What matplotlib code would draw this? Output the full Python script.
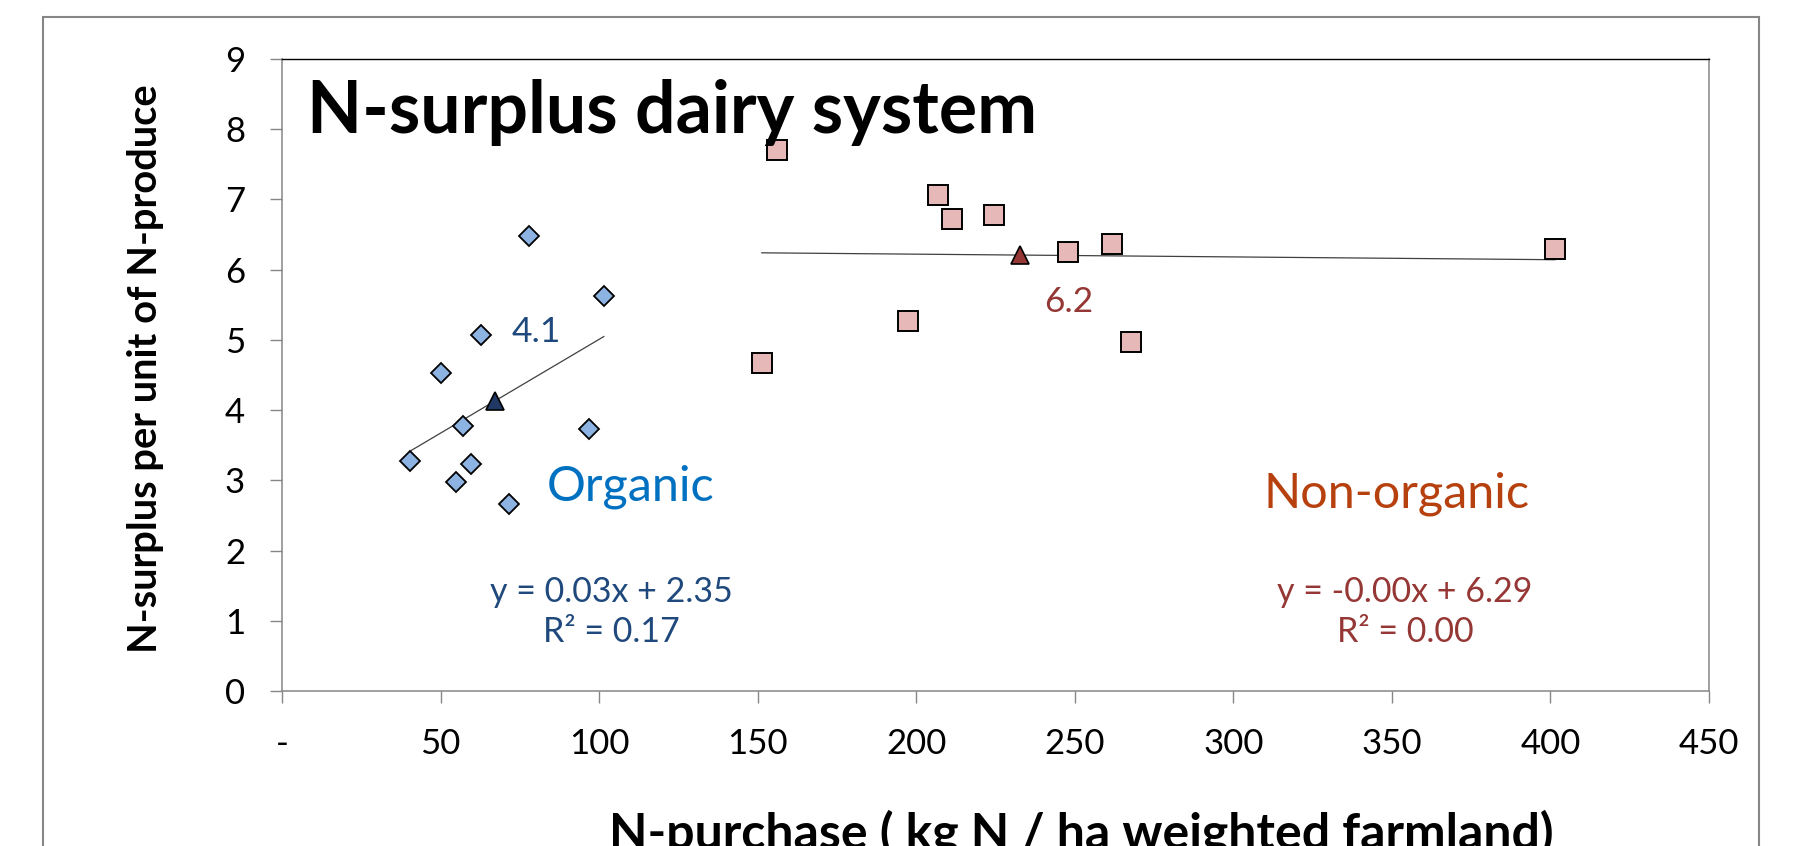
import matplotlib
matplotlib.use("Agg")
import matplotlib.pyplot as plt
import numpy as np
from matplotlib.patches import Rectangle

# organic farms (kg N purchase, N-surplus per unit N-produce)
org_x = [40.3, 50.2, 54.9, 57.1, 59.6, 62.7, 71.7, 77.9, 96.9, 101.5]
org_y = [3.27, 4.53, 2.98, 3.77, 3.23, 5.07, 2.66, 6.48, 3.73, 5.62]
# non-organic farms
conv_x = [151.3, 156.0, 197.5, 207.0, 211.2, 224.4, 247.8, 261.7, 267.6, 401.4]
conv_y = [4.67, 7.70, 5.27, 7.06, 6.72, 6.78, 6.25, 6.37, 4.97, 6.29]

x_ticks = [0, 50, 100, 150, 200, 250, 300, 350, 400, 450]
x_ticklabels = ['-', '50', '100', '150', '200', '250', '300', '350', '400', '450']
y_ticks = list(range(0, 10))

org_eq = "y = 0.03x + 2.35\nR² = 0.17"
conv_eq = "y = -0.00x + 6.29\nR² = 0.00"

plt.rcParams['font.family'] = ['Lato', 'DejaVu Sans']

fig = plt.figure(figsize=(17.98, 8.46), dpi=100)
ax = fig.add_axes([282/1798, 1 - 691/846, (1709-282)/1798, (691-59)/846])

# outer chart frame (cut off at the bottom)
fig.patches.append(Rectangle((43/1798, -0.2), (1759-43)/1798, 1.2 - 17/846,
                             transform=fig.transFigure, fill=False,
                             edgecolor='#868686', linewidth=1.5))

# trend lines
for xs, ys in [(org_x, org_y), (conv_x, conv_y)]:
    k, b = np.polyfit(xs, ys, 1)
    xl = np.array([min(xs), max(xs)])
    ax.plot(xl, k * xl + b, color='#404040', linewidth=0.9, zorder=2)

ax.plot(org_x, org_y, linestyle='none', marker='D', markersize=10,
        markerfacecolor='#8DB3E2', markeredgecolor='black', markeredgewidth=1.3, zorder=3)
ax.plot(conv_x, conv_y, linestyle='none', marker='s', markersize=14,
        markerfacecolor='#E6B9B8', markeredgecolor='black', markeredgewidth=1.4, zorder=3)

# group means
ax.plot(np.mean(org_x), np.mean(org_y), linestyle='none', marker='^', markersize=13,
        markerfacecolor='#1F3864', markeredgecolor='black', markeredgewidth=1.2, zorder=4)
ax.plot(np.mean(conv_x), np.mean(conv_y), linestyle='none', marker='^', markersize=13,
        markerfacecolor='#953735', markeredgecolor='black', markeredgewidth=1.2, zorder=4)

ax.text(80.1, 5.11, f"{np.mean(org_y):.1f}", color='#1F497D', fontsize=25.5, ha='center', va='center')
ax.text(248.2, 5.54, f"{np.mean(conv_y):.1f}", color='#953735', fontsize=25.5, ha='center', va='center')

ax.text(110, 2.71, "Organic", color='#0070C0', fontsize=35, ha='center', va='baseline')
ax.text(351.6, 2.61, "Non-organic", color='#B7410E', fontsize=35, ha='center', va='baseline')

ax.text(103.8, 0.70, org_eq, color='#1F497D', fontsize=24.5, ha='center', va='baseline',
        multialignment='center', linespacing=1.3)
ax.text(354.1, 0.70, conv_eq, color='#953735', fontsize=24.5, ha='center', va='baseline',
        multialignment='center', linespacing=1.3)

ax.text(7.9, 7.95, "N-surplus dairy system", fontsize=51.5, fontweight='bold',
        ha='left', va='baseline')

ax.set_xlim(0, 450)
ax.set_ylim(0, 9)
ax.set_xticks(x_ticks)
ax.set_xticklabels(x_ticklabels)
ax.set_yticks(y_ticks)
ax.tick_params(axis='both', direction='out', length=8.5, width=1, color='#868686',
               labelsize=25, pad=18)

for side in ['left', 'bottom', 'right']:
    ax.spines[side].set_color('#868686')
    ax.spines[side].set_linewidth(1.1)
ax.spines['top'].set_color('black')
ax.spines['top'].set_linewidth(1.0)

fig.text(146/1798, 1 - 369/846, "N-surplus per unit of N-produce", rotation=90,
         fontsize=28.7, fontweight='bold', ha='center', va='center')
fig.text(1081/1798, -2/846, "N-purchase ( kg N / ha weighted farmland)",
         fontsize=36, fontweight='bold', ha='center', va='baseline')

fig.savefig("out.png", dpi=100)
